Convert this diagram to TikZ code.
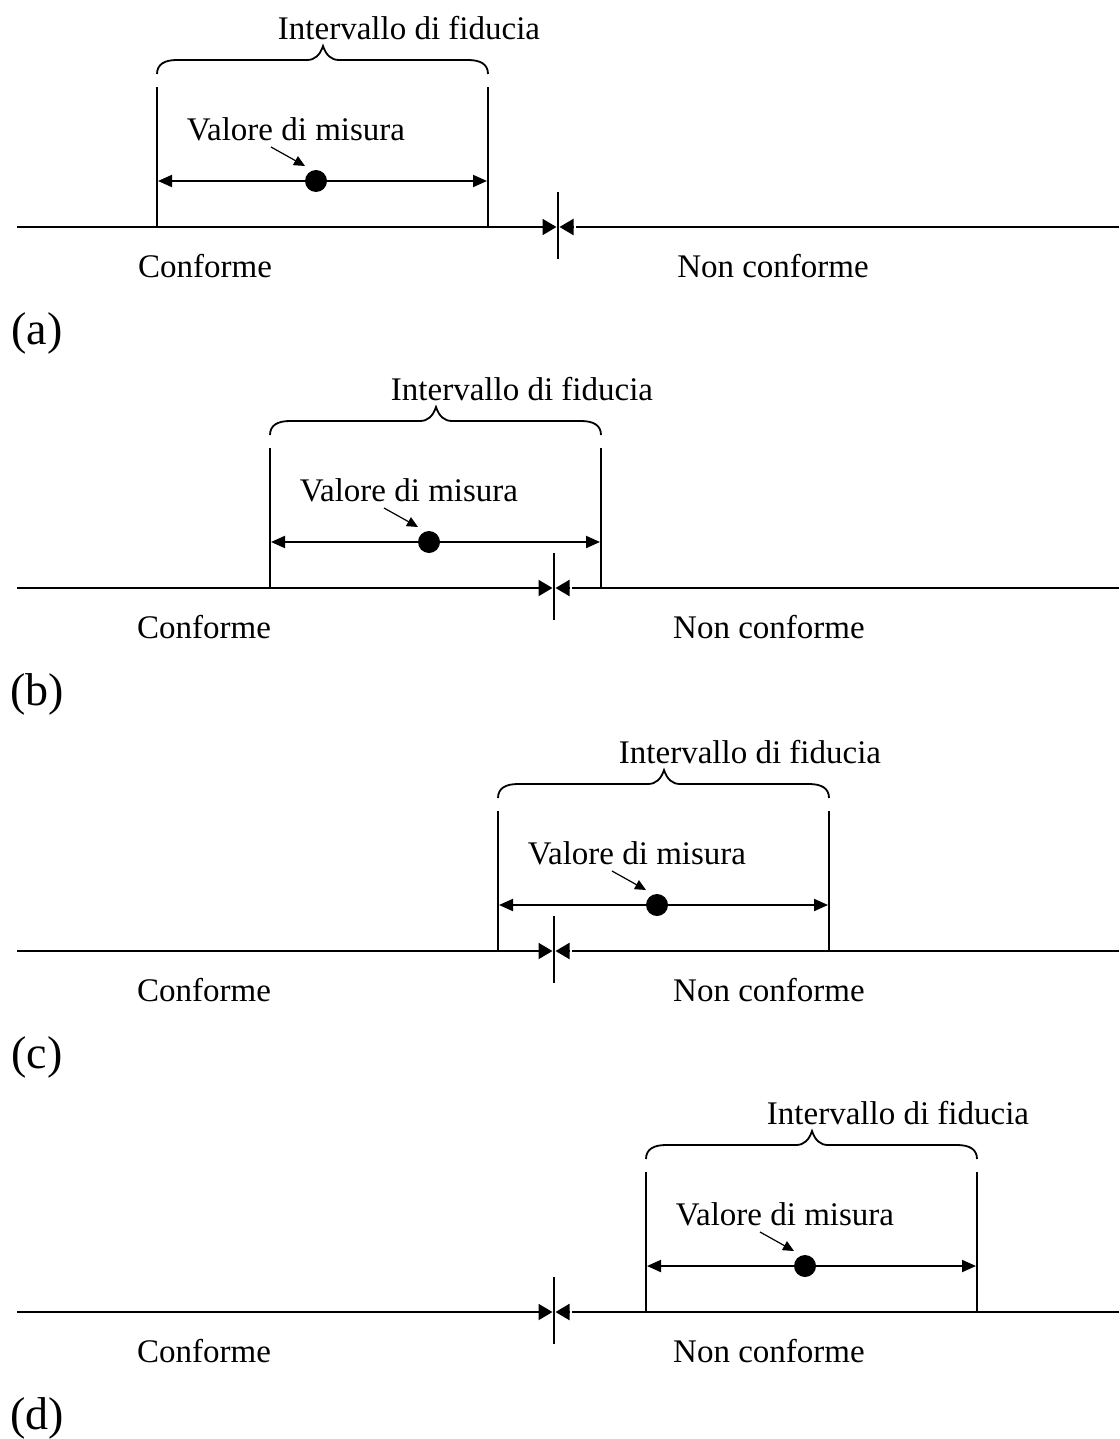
\documentclass[tikz,border=0pt]{standalone}
\usepackage{fontspec}
\setmainfont{Liberation Serif}
\usetikzlibrary{arrows.meta}
\tikzset{
  base/.style={line width=1pt},
  txt/.style={inner sep=0pt, font=\fontsize{16.5}{18}\selectfont},
  lab/.style={inner sep=0pt, font=\fontsize{23}{26}\selectfont},
  dimarrow/.style={line width=1pt, {Triangle[length=7pt,width=6pt]}-{Triangle[length=7pt,width=6pt]}},
  marktip/.style={line width=1pt, -{Triangle[length=7pt,width=8pt]}},
  pointer/.style={line width=0.6pt, -{Triangle[length=5.5pt,width=5pt]}},
  dot/.style={circle, fill=black, inner sep=0pt, minimum size=11pt}
}
% #1 prefix, #2 baseline y, #3 interval left L, #4 marker x, #5 label, #6 Conforme x, #7 Non conforme x
\newcommand\drawpanel[7]{%
\begin{scope}[shift={(0,#2)}]
  \coordinate (#1-ls) at (17,0);
  \coordinate (#1-le) at (#4-1.5,0);
  \coordinate (#1-rs) at (1119,0);
  \coordinate (#1-re) at (#4+18,0);
  \coordinate (#1-hs) at (#4+16,0);
  \coordinate (#1-he) at (#4+1.5,0);
  \coordinate (#1-mt) at (#4,-35);
  \coordinate (#1-mb) at (#4,32);
  \draw[marktip] (#1-ls) -- (#1-le);
  \draw[base] (#1-rs) -- (#1-re);
  \draw[marktip] (#1-hs) -- (#1-he);
  \draw[base] (#1-mt) -- (#1-mb);
  % interval
  \coordinate (#1-lb) at (#3,0);
  \coordinate (#1-lt) at (#3,-140);
  \coordinate (#1-rb) at (#3+331,0);
  \coordinate (#1-rt) at (#3+331,-140);
  \draw[base] (#1-lb) -- (#1-lt);
  \draw[base] (#1-rb) -- (#1-rt);
  \coordinate (#1-al) at (#3+1,-46);
  \coordinate (#1-ar) at (#3+330,-46);
  \draw[dimarrow] (#1-al) -- (#1-ar);
  \node[dot] (#1-dot) at (#3+159,-46) {};
  \coordinate (#1-ps) at (#3+114,-80);
  \coordinate (#1-pt) at (#3+148,-61);
  \draw[pointer] (#1-ps) -- (#1-pt);
  % brace
  \draw[line width=0.9pt] (#3,-153) .. controls (#3,-163) and (#3+8,-167) .. (#3+20,-167)
     -- (#3+150,-167) .. controls (#3+158,-167) and (#3+163,-172) .. (#3+166,-181)
     .. controls (#3+169,-172) and (#3+174,-167) .. (#3+182,-167)
     -- (#3+311,-167) .. controls (#3+323,-167) and (#3+331,-163) .. (#3+331,-153);
  \node[txt] (#1-int) at (#3+252,-199) {Intervallo di fiducia};
  \node[txt] (#1-val) at (#3+139,-98) {Valore di misura};
  \node[txt] (#1-conf) at (#6,39) {Conforme};
  \node[txt] (#1-nconf) at (#7,39) {Non conforme};
  \node[lab] (#1-lab) at (37,106) {#5};
\end{scope}}
\begin{document}
\begin{tikzpicture}[x=0.5pt,y=-0.5pt]
\useasboundingbox (0,0) rectangle (1119,1439);
\drawpanel{a}{227}{157}{558}{(a)}{205}{773}
\drawpanel{b}{588}{270}{554}{(b)}{204}{769}
\drawpanel{c}{951}{498}{554}{(c)}{204}{769}
\drawpanel{d}{1312}{646}{554}{(d)}{204}{769}
\end{tikzpicture}
\end{document}
